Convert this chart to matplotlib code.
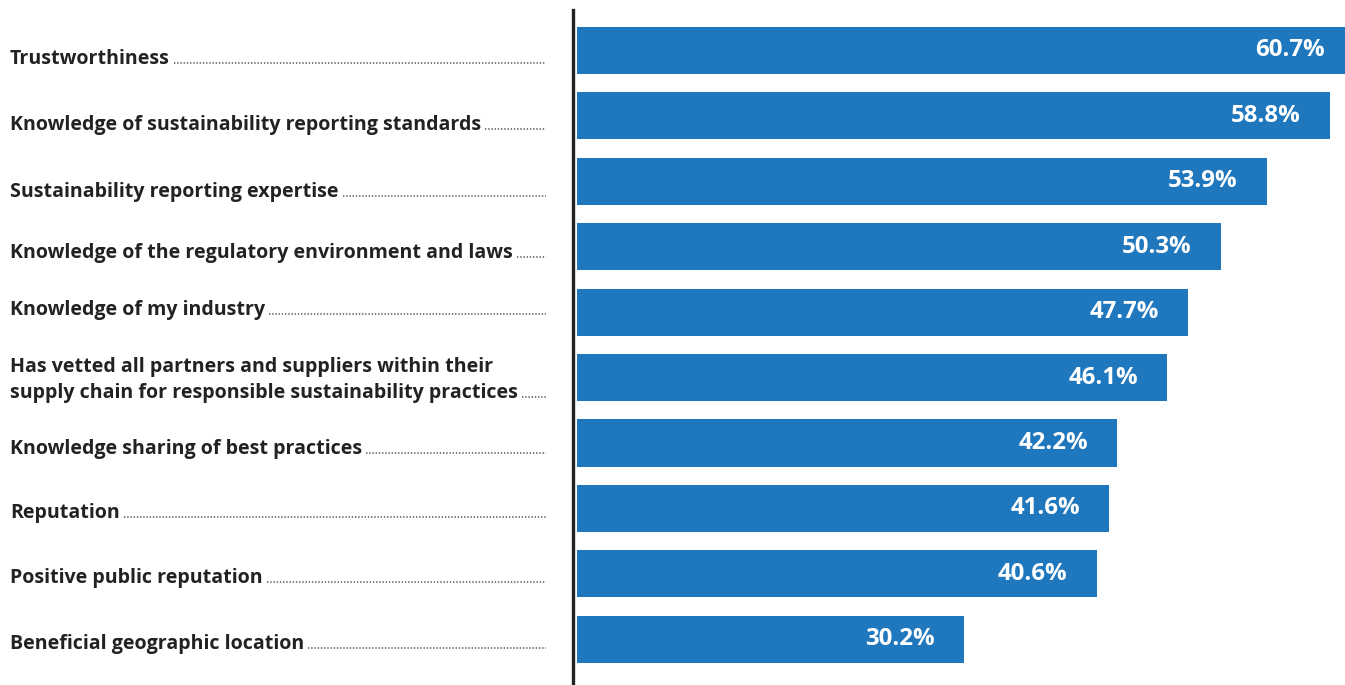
import matplotlib
matplotlib.use("Agg")
import matplotlib.pyplot as plt
from matplotlib import transforms
from matplotlib.lines import Line2D

categories = [
    "Trustworthiness",
    "Knowledge of sustainability reporting standards",
    "Sustainability reporting expertise",
    "Knowledge of the regulatory environment and laws",
    "Knowledge of my industry",
    "Has vetted all partners and suppliers within their\nsupply chain for responsible sustainability practices",
    "Knowledge sharing of best practices",
    "Reputation",
    "Positive public reputation",
    "Beneficial geographic location",
]
values = [60.7, 58.8, 53.9, 50.3, 47.7, 46.1, 42.2, 41.6, 40.6, 30.2]
value_labels = [f"{v:.1f}%" for v in values]

# layout: baseline offset (pixels below bar centre) of each label's last line
label_baseline_dy = [13.8, 14.1, 15.4, 11.3, 2.9, 20.5, 11.1, 9.7, 9.0, 9.9]
line_gap_px = 26.5

W, H = 1345, 685
fig = plt.figure(figsize=(W / 100, H / 100), dpi=100)
ax_left = 573 / W
ax = fig.add_axes([ax_left, 0, 1 - ax_left, 1 - 10 / H])

bar_color = "#1f78be"
px_per_unit = 12.8
start = 4 / px_per_unit
ypos = list(range(len(values)))
ax.barh(ypos, values, height=0.72, color=bar_color, left=start)

ax.set_xlim(0, (W - 573) / px_per_unit)
ax.set_ylim(9.70, -0.619)

for s in ["top", "right", "bottom"]:
    ax.spines[s].set_visible(False)
ax.spines["left"].set_linewidth(2.4)
ax.spines["left"].set_color("#222222")
ax.set_xticks([])
ax.set_yticks([])

LABEL_FONT = "Open Sans"
LABEL_SIZE = 14.1
TEXT_COLOR = "#222222"

# value labels
for y, v, lab in zip(ypos, values, value_labels):
    off = transforms.offset_copy(ax.transData, fig=fig, x=-29, y=0, units="dots")
    ax.text(v + start, y, lab, transform=off, ha="right", va="center", color="white",
            fontsize=17.3, fontweight="bold", family="Open Sans", clip_on=False)

# category labels with dot leaders
blend = transforms.blended_transform_factory(fig.transFigure, ax.transData)
last_texts = []
for y, cat, dy in zip(ypos, categories, label_baseline_dy):
    lines = cat.split("\n")
    n = len(lines)
    last = None
    for k, line in enumerate(lines):
        shift = dy - (n - 1 - k) * line_gap_px
        tr = transforms.offset_copy(blend, fig=fig, x=0, y=-shift, units="dots")
        last = fig.text(10 / W, y, line, transform=tr, ha="left", va="baseline",
                        fontsize=LABEL_SIZE, fontweight="bold", color=TEXT_COLOR,
                        family=LABEL_FONT)
    last_texts.append((last, y, dy))

fig.canvas.draw()
r = fig.canvas.get_renderer()
end_x = 546
for t, y, dy in last_texts:
    bb = t.get_window_extent(r)
    x0 = bb.x1 + 4
    ybase = ax.transData.transform((0, y))[1] - dy + 1
    ln = Line2D([x0, end_x], [ybase, ybase], transform=None, color="#555555",
                linewidth=1.1, linestyle=(0, (0.9, 1.2)))
    fig.add_artist(ln)

fig.savefig("out.png", dpi=100)
